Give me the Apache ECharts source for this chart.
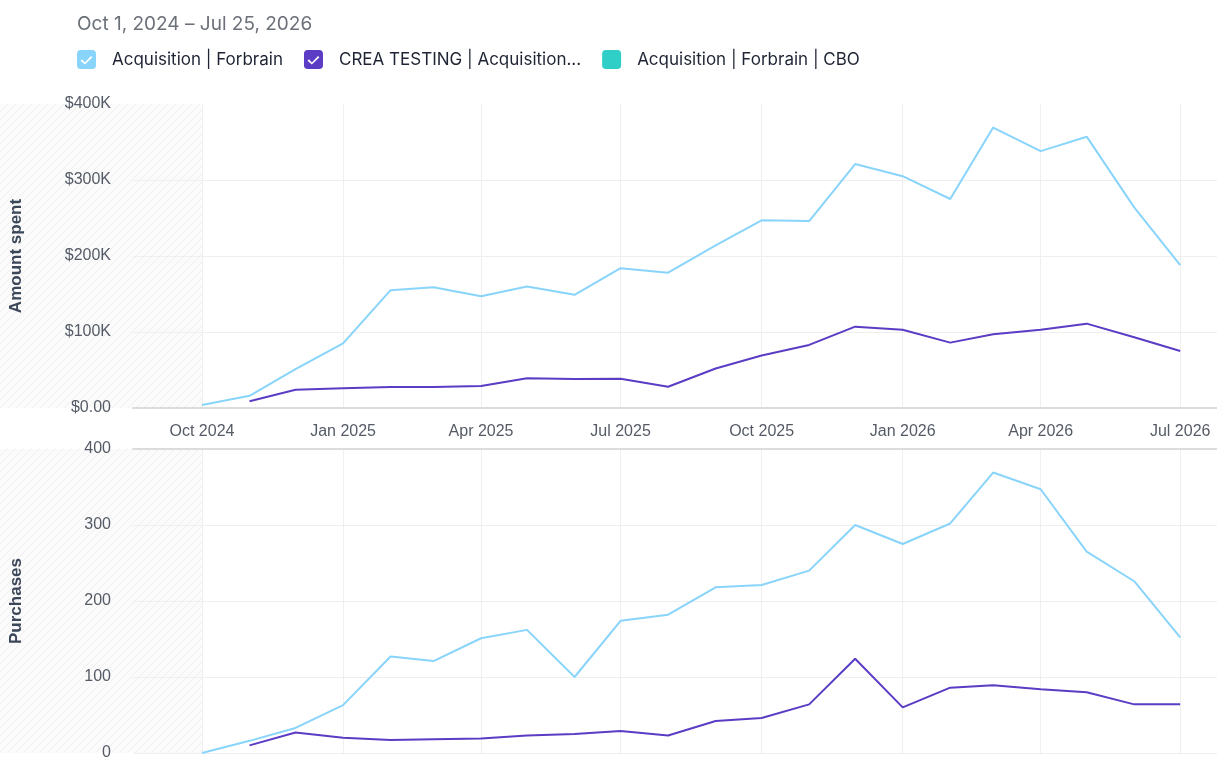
<!DOCTYPE html>
<html>
<head>
<meta charset="utf-8">
<script src="https://cdn.jsdelivr.net/npm/echarts@6/dist/echarts.min.js"></script>
<style>
html,body{margin:0;padding:0;background:#fff;}
#chart{width:1217px;height:772px;}
</style>
</head>
<body>
<div id="chart"></div>
<script>
// ---- data ----
const months = ['2024-10-01','2024-11-01','2024-12-01','2025-01-01','2025-02-01','2025-03-01','2025-04-01','2025-05-01','2025-06-01','2025-07-01','2025-08-01','2025-09-01','2025-10-01','2025-11-01','2025-12-01','2026-01-01','2026-02-01','2026-03-01','2026-04-01','2026-05-01','2026-06-01','2026-07-01'];
const seriesNames = ['Acquisition | Forbrain', 'CREA TESTING | Acquisition...', 'Acquisition | Forbrain | CBO'];
// Amount spent, thousands of dollars
const spendForbrain = [4,16,51,85,155,159,147,160,149,184,178,214,247,246,321,305,275,369,338,357,264,188];
const spendCrea = [null,9,24,26,27.6,27.6,29,39,38,38.6,28,52,69,83,107,103,86,97,103,111,93,75];
const spendCbo = [];
// Purchases
const purchForbrain = [0,16,33,63,127,121,151,162,100,174,182,218,221,240,300,275,302,369,347,265,226,152];
const purchCrea = [null,10,27,20,17,18,19,23,25,29,23,42,46,64,124,60,86,89,84,80,64,64];
const purchCbo = [];
const xTickDates = ['2024-10-01','2025-01-01','2025-04-01','2025-07-01','2025-10-01','2026-01-01','2026-04-01','2026-07-01'];
const xRange = ['2024-08-17','2026-07-25'];
const dataStart = '2024-10-01';
const spendTicks = [0,100000,200000,300000,400000];
const purchTicks = [0,100,200,300,400];
const titleText = 'Oct 1, 2024 – Jul 25, 2026';
const MONTHS = ['Jan','Feb','Mar','Apr','May','Jun','Jul','Aug','Sep','Oct','Nov','Dec'];

function toTs(s){ const p=s.split('-').map(Number); return new Date(p[0],p[1]-1,p[2]).getTime(); }
function pairs(vals, scale){ return vals.map((v,i)=>[toTs(months[i]), v==null?null:v*scale]); }

const colors = ['#89d4fb','#5b3cc4','#2fcfc8'];
const tickTs = xTickDates.map(toTs);
const axisFont = 'Liberation Sans, Arial, sans-serif';
const uiFont = 'Inter, Roboto, sans-serif';

// icons (rounded square with a check-mark hole)
const checkIcon = 'path://M4,0 H16 Q20,0 20,4 V16 Q20,20 16,20 H4 Q0,20 0,16 V4 Q0,0 4,0 Z M3.75,11.25 L8.3,15.3 L16.25,7.75 L14.75,6.25 L8.3,13.1 L5.25,9.75 Z';
const plainIcon = 'path://M4,0 H16 Q20,0 20,4 V16 Q20,20 16,20 H4 Q0,20 0,16 V4 Q0,0 4,0 Z';

function xAxisCfg(idx, showLabels){
  return {
    type:'value', gridIndex:idx, min:toTs(xRange[0]), max:toTs(xRange[1]),
    position: idx===0 ? 'bottom' : 'top',
    axisLine:{show:true, onZero:false, lineStyle:{color:'#dcdcdc', width:2}},
    axisTick:{show:false, customValues:tickTs},
    axisLabel:{show:showLabels, customValues:tickTs, margin:16, fontSize:16, color:'#555b66', fontFamily:axisFont,
      formatter:function(v){ const d=new Date(v); return MONTHS[d.getMonth()]+' '+d.getFullYear(); }},
    splitLine:{show:true, lineStyle:{color:'#efefef', width:1}}
  };
}
function yAxisCfg(idx, ticks, name, fmt){
  return {
    type:'value', gridIndex:idx, min:ticks[0], max:ticks[ticks.length-1], interval:ticks[1]-ticks[0],
    name:name, nameLocation:'middle', nameGap:108, nameRotate:90,
    nameTextStyle:{fontFamily:axisFont, fontWeight:'bold', fontSize:17, color:'#3b4658'},
    axisLine:{show:false}, axisTick:{show:false},
    axisLabel:{margin:22, fontSize:16, color:'#555b66', fontFamily:axisFont, formatter:fmt},
    splitLine:{show:true, lineStyle:{color:['#efefef','#efefef','#efefef','#efefef','rgba(0,0,0,0)'], width:1}}
  };
}
function lineSeries(name, data, xi, color){
  return {name:name, type:'line', xAxisIndex:xi, yAxisIndex:xi, data:data, showSymbol:false, symbol:'none',
    connectNulls:false, lineStyle:{width:2, color:color}, itemStyle:{color:color}, z:3};
}

const chart = echarts.init(document.getElementById('chart'));
const option = {
  animation:false,
  backgroundColor:'#ffffff',
  title:{text:titleText, left:72, top:10, textStyle:{fontFamily:uiFont, fontSize:19, fontWeight:'normal', color:'#6b7079'}},
  legend:{left:72, top:45, itemWidth:19, itemHeight:19, itemGap:21,
    textStyle:{fontFamily:uiFont, fontSize:17, color:'#1e2433', padding:[0,0,0,11]},
    data:[{name:seriesNames[0], icon:checkIcon},{name:seriesNames[1], icon:checkIcon},{name:seriesNames[2], icon:plainIcon}]},
  grid:[{left:133, right:0, top:104, height:304},{left:133, right:0, top:449, height:304}],
  xAxis:[xAxisCfg(0,true), xAxisCfg(1,false)],
  yAxis:[
    yAxisCfg(0, spendTicks, 'Amount spent', function(v){ return v===0 ? '$0.00' : '$'+(v/1000)+'K'; }),
    yAxisCfg(1, purchTicks, 'Purchases', function(v){ return String(v); })
  ],
  series:[
    lineSeries(seriesNames[0], pairs(spendForbrain,1000), 0, colors[0]),
    lineSeries(seriesNames[1], pairs(spendCrea,1000), 0, colors[1]),
    lineSeries(seriesNames[2], pairs(spendCbo,1000), 0, colors[2]),
    lineSeries(seriesNames[0], pairs(purchForbrain,1), 1, colors[0]),
    lineSeries(seriesNames[1], pairs(purchCrea,1), 1, colors[1]),
    lineSeries(seriesNames[2], pairs(purchCbo,1), 1, colors[2])
  ]
};
chart.setOption(option);

// hatched "outside range" background
const pc = document.createElement('canvas');
pc.width = 8; pc.height = 8;
const g = pc.getContext('2d');
g.fillStyle = '#fbfbfb'; g.fillRect(0,0,8,8);
g.strokeStyle = '#efefef'; g.lineWidth = 1;
g.beginPath();
g.moveTo(-1,9); g.lineTo(9,-1);
g.moveTo(-1,1); g.lineTo(1,-1);
g.moveTo(7,9); g.lineTo(9,7);
g.stroke();

const rects = [];
[[0, spendTicks],[1, purchTicks]].forEach(function(a){
  const top = chart.convertToPixel({gridIndex:a[0]}, [toTs(dataStart), a[1][a[1].length-1]]);
  const bot = chart.convertToPixel({gridIndex:a[0]}, [toTs(dataStart), a[1][0]]);
  rects.push({type:'rect', z:-10, silent:true, shape:{x:0, y:top[1], width:top[0], height:bot[1]-top[1]},
    style:{fill:{image:pc, repeat:'repeat'}}});
});
chart.setOption({graphic:rects});
</script>
</body>
</html>
